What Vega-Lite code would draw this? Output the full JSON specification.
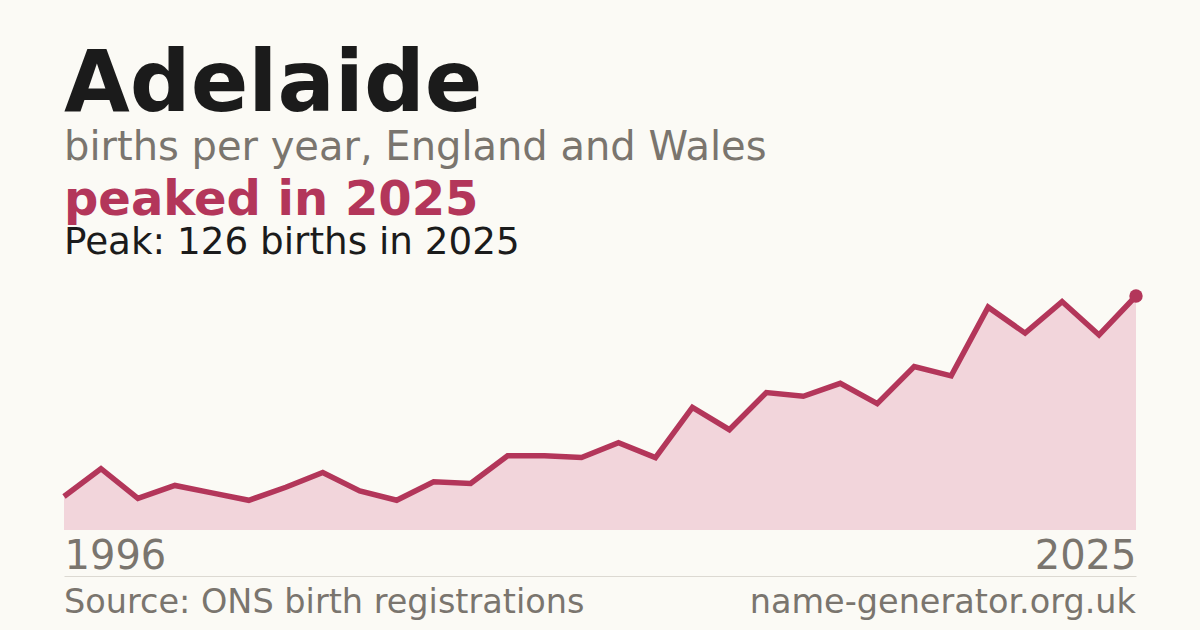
{
  "$schema": "https://vega.github.io/schema/vega-lite/v6.json",
  "description": "Adelaide: births per year in England and Wales, 1996-2025",
  "background": "#fbfaf5",
  "padding": {"left": 53, "right": 53, "top": 42, "bottom": 2},
  "config": {"view": {"stroke": null}, "font": "DejaVu Sans"},
  "title": {
    "text": "Adelaide",
    "subtitle": "births per year, England and Wales",
    "anchor": "start",
    "frame": "group",
    "font": "DejaVu Sans",
    "fontSize": 85,
    "fontWeight": "bold",
    "color": "#1b1b1b",
    "subtitleFont": "DejaVu Sans",
    "subtitleFontSize": 40,
    "subtitleColor": "#7a756e",
    "subtitlePadding": -1,
    "offset": 8
  },
  "spacing": -3,
  "vconcat": [
    {
      "width": 1072,
      "height": 234,
      "title": {
        "text": "peaked in 2025",
        "subtitle": "Peak: 126 births in 2025",
        "anchor": "start",
        "frame": "group",
        "font": "DejaVu Sans",
        "fontSize": 48,
        "fontWeight": "bold",
        "color": "#b3365a",
        "subtitleFont": "DejaVu Sans",
        "subtitleFontSize": 37.3,
        "subtitleColor": "#1b1b1b",
        "subtitlePadding": 0,
        "offset": 24
      },
      "data": {
        "values": [
          {"year": 1996, "births": 18},
          {"year": 1997, "births": 33},
          {"year": 1998, "births": 17},
          {"year": 1999, "births": 24},
          {"year": 2000, "births": 20},
          {"year": 2001, "births": 16},
          {"year": 2002, "births": 23},
          {"year": 2003, "births": 31},
          {"year": 2004, "births": 21},
          {"year": 2005, "births": 16},
          {"year": 2006, "births": 26},
          {"year": 2007, "births": 25},
          {"year": 2008, "births": 40},
          {"year": 2009, "births": 40},
          {"year": 2010, "births": 39},
          {"year": 2011, "births": 47},
          {"year": 2012, "births": 39},
          {"year": 2013, "births": 66},
          {"year": 2014, "births": 54},
          {"year": 2015, "births": 74},
          {"year": 2016, "births": 72},
          {"year": 2017, "births": 79},
          {"year": 2018, "births": 68},
          {"year": 2019, "births": 88},
          {"year": 2020, "births": 83},
          {"year": 2021, "births": 120},
          {"year": 2022, "births": 106},
          {"year": 2023, "births": 123},
          {"year": 2024, "births": 105},
          {"year": 2025, "births": 126}
        ]
      },
      "encoding": {
        "x": {
          "field": "year",
          "type": "quantitative",
          "scale": {"domain": [1996, 2025], "nice": false, "zero": false},
          "axis": {
            "values": [1996, 2025],
            "format": "d",
            "title": null,
            "grid": false,
            "domain": false,
            "ticks": false,
            "labelFlush": true,
            "labelFontSize": 40,
            "labelColor": "#7a756e",
            "labelPadding": 6
          }
        },
        "y": {
          "field": "births",
          "type": "quantitative",
          "scale": {"domain": [0, 126], "nice": false},
          "axis": null
        }
      },
      "layer": [
        {"mark": {"type": "area", "color": "#f2d5db"}},
        {"mark": {"type": "line", "color": "#b3365a", "strokeWidth": 5.5}},
        {
          "transform": [{"filter": "datum.year == 2025"}],
          "mark": {"type": "point", "filled": true, "size": 180, "color": "#b3365a", "opacity": 1}
        }
      ]
    },
    {
      "width": 1072,
      "height": 53,
      "data": {
        "values": [
          {"year": 1996, "label": "Source: ONS birth registrations"},
          {"year": 2025, "label": "name-generator.org.uk"}
        ]
      },
      "encoding": {
        "x": {
          "field": "year",
          "type": "quantitative",
          "scale": {"domain": [1996, 2025], "nice": false, "zero": false},
          "axis": {
            "orient": "top",
            "title": null,
            "grid": false,
            "labels": false,
            "ticks": false,
            "domain": true,
            "domainColor": "#dcd9d2",
            "domainWidth": 1
          }
        },
        "text": {"field": "label", "type": "nominal"}
      },
      "layer": [
        {
          "transform": [{"filter": "datum.year == 1996"}],
          "mark": {"type": "text", "align": "left", "baseline": "middle", "fontSize": 33.5, "color": "#7a756e"}
        },
        {
          "transform": [{"filter": "datum.year == 2025"}],
          "mark": {"type": "text", "align": "right", "baseline": "middle", "fontSize": 33.5, "color": "#7a756e"}
        }
      ]
    }
  ]
}
